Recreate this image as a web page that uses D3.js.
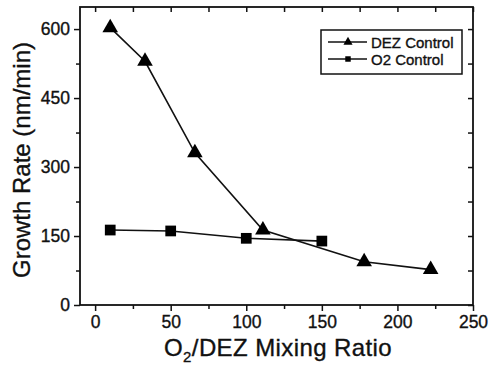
<!DOCTYPE html>
<html>
<head>
<meta charset="utf-8">
<script src="https://cdn.jsdelivr.net/npm/d3@7"></script>
<style>
  body { margin: 0; background: #fff; }
  text { font-family: "Liberation Sans", Arial, sans-serif; fill: #111; stroke: #111; stroke-width: 0.35px; }
</style>
</head>
<body>
<script>
// data
var dezX = [10, 33, 66, 111, 178, 222];
var dezY = [603, 530, 331, 163, 94, 77];
var o2X = [10, 50, 100, 150];
var o2Y = [163, 161, 145, 139];
var xTicks = [0, 50, 100, 150, 200, 250];
var yTicks = [0, 150, 300, 450, 600];
var seriesNames = ["DEZ Control", "O2 Control"];

var width = 491, height = 369;
var plotLeft = 80, plotRight = 473, plotTop = 7, plotBottom = 305;

var svg = d3.select('body').append('svg')
    .attr('width', width)
    .attr('height', height);

var xScale = d3.scaleLinear().domain([-10, 250]).range([plotLeft, plotRight]);
var yScale = d3.scaleLinear().domain([0, 648]).range([plotBottom, plotTop]);

var xMinor = d3.range(25, 250, 50);
var yMinor = d3.range(75, 648, 150);

// bottom axis (ticks out)
svg.append('g')
    .attr('transform', 'translate(0,' + plotBottom + ')')
    .call(d3.axisBottom(xScale).tickValues(xTicks).tickSize(6).tickPadding(5));
svg.append('g')
    .attr('transform', 'translate(0,' + plotBottom + ')')
    .call(d3.axisBottom(xScale).tickValues(xMinor).tickSize(4).tickFormat(''));

// left axis (ticks out)
svg.append('g')
    .attr('transform', 'translate(' + plotLeft + ',0)')
    .call(d3.axisLeft(yScale).tickValues(yTicks).tickSize(6).tickPadding(4));
svg.append('g')
    .attr('transform', 'translate(' + plotLeft + ',0)')
    .call(d3.axisLeft(yScale).tickValues(yMinor).tickSize(4).tickFormat(''));

// top and right mirror ticks, pointing in
svg.append('g')
    .attr('transform', 'translate(0,' + plotTop + ')')
    .call(d3.axisTop(xScale).tickValues(xTicks.concat(xMinor)).tickSize(-5).tickFormat(''));
svg.append('g')
    .attr('transform', 'translate(' + plotRight + ',0)')
    .call(d3.axisRight(yScale).tickValues(yTicks.concat(yMinor)).tickSize(-5).tickFormat(''));

svg.selectAll('.domain').remove();
svg.selectAll('.tick line').attr('stroke', '#111').attr('stroke-width', 1.5);
svg.selectAll('.tick text').style('font-size', '17.5px').attr('fill', '#111');

// frame
svg.append('rect')
    .attr('x', plotLeft).attr('y', plotTop)
    .attr('width', plotRight - plotLeft).attr('height', plotBottom - plotTop)
    .attr('fill', 'none').attr('stroke', '#111').attr('stroke-width', 1.8);

var line = d3.line()
    .x(function(d) { return xScale(d[0]); })
    .y(function(d) { return yScale(d[1]); });

var dez = dezX.map(function(x, i) { return [x, dezY[i]]; });
var o2 = o2X.map(function(x, i) { return [x, o2Y[i]]; });

svg.append('path').attr('d', line(o2))
    .attr('fill', 'none').attr('stroke', '#111').attr('stroke-width', 1.6);
svg.append('path').attr('d', line(dez))
    .attr('fill', 'none').attr('stroke', '#111').attr('stroke-width', 1.6);

var tri = d3.symbol().type(d3.symbolTriangle).size(105);
var sq = d3.symbol().type(d3.symbolSquare).size(115);

svg.selectAll('.sq').data(o2).enter().append('path')
    .attr('d', sq)
    .attr('transform', function(d) { return 'translate(' + xScale(d[0]) + ',' + yScale(d[1]) + ')'; })
    .attr('fill', '#000');
svg.selectAll('.tri').data(dez).enter().append('path')
    .attr('d', tri)
    .attr('transform', function(d) { return 'translate(' + xScale(d[0]) + ',' + yScale(d[1]) + ')'; })
    .attr('fill', '#000');

// legend
var legend = svg.append('g');
legend.append('rect')
    .attr('x', 321).attr('y', 30).attr('width', 141).attr('height', 44)
    .attr('fill', '#fff').attr('stroke', '#111').attr('stroke-width', 1.5);
var legendSym = [d3.symbol().type(d3.symbolTriangle).size(36), d3.symbol().type(d3.symbolSquare).size(30)];
seriesNames.forEach(function(name, i) {
    var ly = 42 + i * 17;
    legend.append('line')
        .attr('x1', 328).attr('x2', 367).attr('y1', ly).attr('y2', ly)
        .attr('stroke', '#111').attr('stroke-width', 1.6);
    legend.append('path').attr('d', legendSym[i])
        .attr('transform', 'translate(348,' + ly + ')').attr('fill', '#000');
    legend.append('text')
        .attr('x', 371).attr('y', ly + 5.5)
        .style('font-size', '15px')
        .text(name);
});

// axis titles
svg.append('text')
    .attr('transform', 'translate(30,160) rotate(-90)')
    .attr('text-anchor', 'middle')
    .style('font-size', '24px')
    .text('Growth Rate (nm/min)');

var xt = svg.append('text')
    .attr('x', 278).attr('y', 356)
    .attr('text-anchor', 'middle')
    .style('font-size', '24px')
    .style('letter-spacing', '0.4px');
xt.append('tspan').text('O');
xt.append('tspan').attr('dy', 6).style('font-size', '15px').text('2');
xt.append('tspan').attr('dy', -6).text('/DEZ Mixing Ratio');
</script>
</body>
</html>
